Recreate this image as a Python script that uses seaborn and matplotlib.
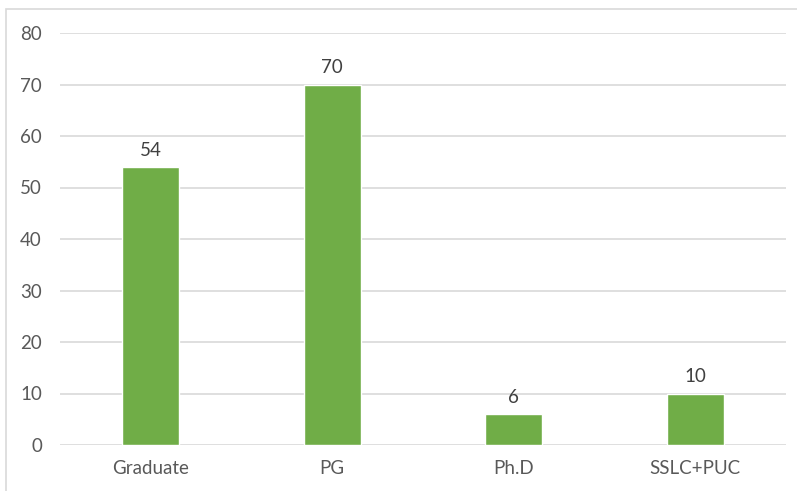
import matplotlib
matplotlib.use("Agg")
import matplotlib.pyplot as plt
from matplotlib.patches import Rectangle
import seaborn as sns
import pandas as pd

categories = ["Graduate", "PG", "Ph.D", "SSLC+PUC"]
counts = [54, 70, 6, 10]
y_ticks = [0, 10, 20, 30, 40, 50, 60, 70, 80]

bar_color = "#70AD47"
text_color = "#595959"
grid_color = "#D9D9D9"

sns.set_theme(style="white")
plt.rcParams["font.family"] = ["Lato", "DejaVu Sans"]

df = pd.DataFrame({"category": categories, "count": counts})

fig = plt.figure(figsize=(7.97, 4.91), dpi=100)
ax = fig.add_axes([60 / 797, 1 - 445 / 491, 726 / 797, 412 / 491])

sns.barplot(data=df, x="category", y="count", color=bar_color, width=0.315,
            saturation=1, ax=ax, zorder=3)

ax.set_ylim(0, 80)
ax.set_yticks(y_ticks)
ax.set_xlim(-0.5, len(categories) - 0.5)
ax.grid(axis="y", color=grid_color, linewidth=1.2, zorder=0)
ax.set_axisbelow(True)
for side in ["top", "right", "left", "bottom"]:
    ax.spines[side].set_visible(False)
ax.set_xlabel("")
ax.set_ylabel("")
ax.tick_params(axis="both", length=0, labelsize=13.5, labelcolor=text_color)
ax.tick_params(axis="y", pad=13)
ax.tick_params(axis="x", pad=11)

for patch, val in zip(ax.patches, counts):
    ax.annotate(f"{val}", (patch.get_x() + patch.get_width() / 2, val),
                xytext=(0, 6), textcoords="offset points",
                ha="center", va="bottom", fontsize=13.5, color="#404040")

# light frame around the chart area
fig.patches.append(Rectangle((6 / 797, -0.05), 1.0, 1 - 9 / 491 + 0.05,
                             transform=fig.transFigure, fill=False,
                             edgecolor="#D9D9D9", linewidth=1.2))

fig.savefig("out.png", dpi=100)
